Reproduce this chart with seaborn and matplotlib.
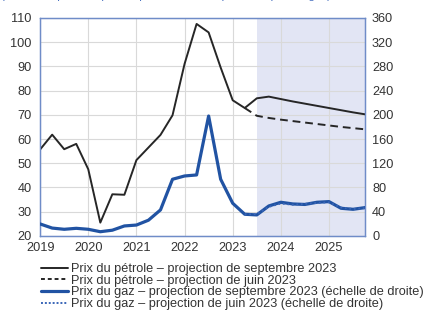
import numpy as np
import pandas as pd
import matplotlib
matplotlib.use("Agg")
import matplotlib.pyplot as plt
import seaborn as sns
from matplotlib.lines import Line2D

# ---------------- data ----------------
quarters = [f"{y}T{q}" for y in range(2019, 2026) for q in range(1, 5)]
oil_sept = [55.7, 61.8, 55.8, 58.0,
            47.5, 25.5, 37.2, 37.0,
            51.3, 56.5, 61.7, 69.8,
            91.0, 107.5, 104.0, 89.5,
            76.0, 72.8, 76.8, 77.5,
            76.5, 75.5, 74.6, 73.7,
            72.8, 71.9, 71.0, 70.2]
oil_june = [np.nan] * 17 + [72.8, 69.6, 68.7, 68.0, 67.4, 66.8, 66.2, 65.6, 65.0, 64.5, 64.0]
gas_sept = [19.8, 13.0, 11.0, 12.6,
            11.0, 7.0, 9.5, 16.5,
            18.0, 26.0, 43.0, 93.6,
            99.0, 100.7, 198.0, 93.6,
            54.0, 35.8, 34.7, 49.5,
            55.6, 52.8, 52.0, 55.6,
            56.7, 45.7, 44.0, 46.8]
gas_june = [np.nan] * 17 + [35.8, 36.0, 48.0, 53.5, 51.5, 53.0, 54.5, 55.5, 47.0, 44.5, 46.0]

years = [2019, 2020, 2021, 2022, 2023, 2024, 2025]
left_ticks = [20, 30, 40, 50, 60, 70, 80, 90, 100, 110]
right_ticks = [0, 40, 80, 120, 160, 200, 240, 280, 320, 360]
projection_start = "2023T3"

legend_labels = [
    "Prix du pétrole – projection de septembre 2023",
    "Prix du pétrole – projection de juin 2023",
    "Prix du gaz – projection de septembre 2023 (échelle de droite)",
    "Prix du gaz – projection de juin 2023 (échelle de droite)",
]
subtitle = "(en dollars par baril pour le pétrole et euros par MWh pour le gaz)"


def to_year(q):
    y, t = q.split("T")
    return int(y) + (int(t) - 1) / 4


df = pd.DataFrame({
    "t": [to_year(q) for q in quarters],
    "oil_sept": oil_sept,
    "oil_june": oil_june,
    "gas_sept": gas_sept,
    "gas_june": gas_june,
})

# ---------------- style ----------------
sns.set_style("white")
plt.rcParams["font.family"] = ["Liberation Sans", "DejaVu Sans"]

fig = plt.figure(figsize=(4.27, 3.25), dpi=100)
ax = fig.add_axes([0.094, 0.274, 0.761, 0.671])
ax2 = ax.twinx()

spine_col = "#6f8cc8"
grid_col = "#d9d9d9"
oil_col = "#262626"
gas_col = "#2153a3"
txt_col = "#333333"

x0, x1 = df["t"].iloc[0], df["t"].iloc[-1]
ax.axvspan(to_year(projection_start), x1, color="#e2e5f4", zorder=0, lw=0)

for yv in years:
    ax.axvline(yv, color=grid_col, lw=0.8, zorder=0.5)
for v in left_ticks:
    ax.axhline(v, color=grid_col, lw=0.8, zorder=0.5)

sns.lineplot(data=df, x="t", y="oil_sept", ax=ax, color=oil_col, lw=1.4, zorder=3)
sns.lineplot(data=df, x="t", y="oil_june", ax=ax, color=oil_col, lw=1.4, zorder=3)
ax.lines[-1].set_dashes([4, 2.5])
sns.lineplot(data=df, x="t", y="gas_sept", ax=ax2, color=gas_col, lw=2.3, zorder=3)
sns.lineplot(data=df, x="t", y="gas_june", ax=ax2, color="#3a66b8", lw=1.3, zorder=4)
ax2.lines[-1].set_dashes([1, 1.5])

ax.set_xlim(x0, x1)
ax.set_ylim(20, 110)
ax2.set_ylim(0, 360)
ax.set_xticks(years)
ax.set_xticklabels([str(y) for y in years])
ax.set_yticks(left_ticks)
ax2.set_yticks(right_ticks)
ax.set_xlabel("")
ax.set_ylabel("")
ax2.set_ylabel("")
ax.grid(False)
ax2.grid(False)

for a in (ax, ax2):
    a.tick_params(length=0, labelsize=9.2, colors=txt_col, pad=3)
    for s in a.spines.values():
        s.set_color(spine_col)
        s.set_linewidth(0.9)
ax.tick_params(axis="x", pad=4)
ax.tick_params(axis="y", pad=6)
ax2.tick_params(axis="y", pad=5)

handles = [
    Line2D([], [], color=oil_col, lw=1.4),
    Line2D([], [], color=oil_col, lw=1.4, dashes=[2, 1.5]),
    Line2D([], [], color=gas_col, lw=2.3),
    Line2D([], [], color="#3a66b8", lw=1.4, dashes=[1, 1]),
]
fig.legend(handles, legend_labels, loc="upper left", bbox_to_anchor=(0.097, 0.19),
           frameon=False, fontsize=9.2, handlelength=2.05, handletextpad=0.3,
           labelspacing=-0.03, borderaxespad=0, borderpad=0, labelcolor=txt_col)

fig.text(0.775, 1.012, subtitle, ha="right", va="center", fontsize=8.2, color="#4a72c0")

fig.savefig("out.png", dpi=100)
